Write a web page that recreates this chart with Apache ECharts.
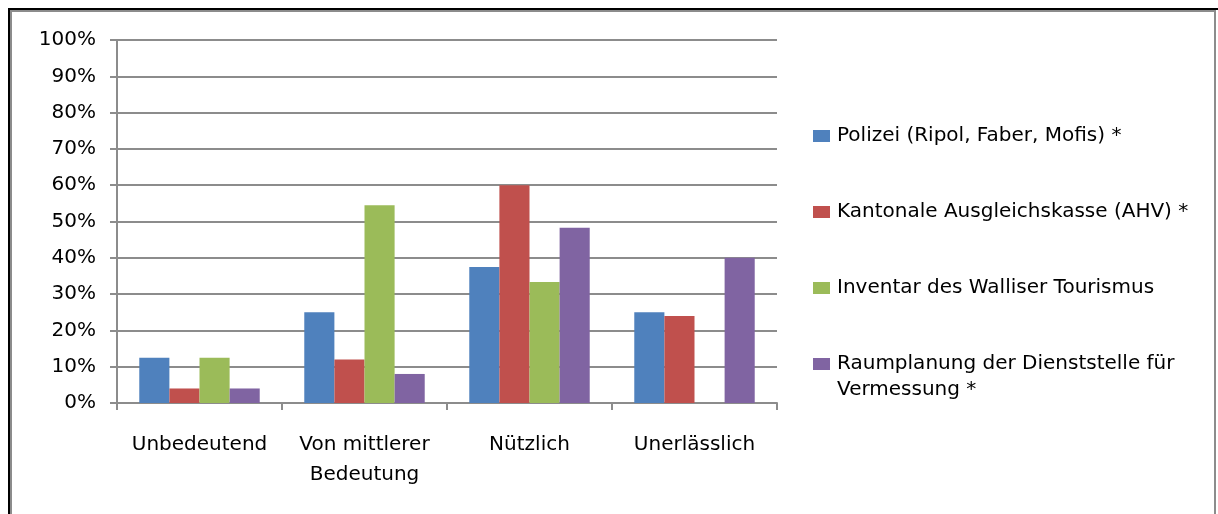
<!DOCTYPE html>
<html>
<head>
<meta charset="utf-8">
<script src="https://cdn.jsdelivr.net/npm/echarts@6/dist/echarts.min.js"></script>
<style>
html, body { margin: 0; padding: 0; background: #fff; overflow: hidden; width: 1218px; height: 514px; }
#frame_black {
  position: absolute; left: 8px; top: 8px; width: 1210px; height: 506px;
  border-left: 2px solid #000; border-top: 2px solid #000;
}
#frame_gray {
  position: absolute; left: 10px; top: 10px; width: 1202px; height: 504px;
  border-left: 2px solid #8c8c8c; border-top: 2px solid #8c8c8c; border-right: 2px solid #8c8c8c;
}
#chart { position: absolute; left: 0; top: 0; width: 1218px; height: 514px; }
</style>
</head>
<body>
<div id="frame_black"></div>
<div id="frame_gray"></div>
<div id="chart"></div>
<script>
// Kategorien und Werte (Anteile in %)
const categories = ['Unbedeutend', 'Von mittlerer Bedeutung', 'Nützlich', 'Unerlässlich'];
const seriesNames = [
  'Polizei (Ripol, Faber, Mofis) *',
  'Kantonale Ausgleichskasse (AHV) *',
  'Inventar des Walliser Tourismus',
  'Raumplanung der Dienststelle für Vermessung *'
];
const polizei = [12.5, 25, 37.5, 25];
const ahv = [4, 12, 60, 24];
const tourismus = [12.5, 54.5, 33.3, 0];
const raumplanung = [4, 8, 48.3, 40];
const colors = ['#4F81BD', '#C0504D', '#9BBB59', '#8064A2'];

const font = 'DejaVu Sans';
const fs = 20;
const chart = echarts.init(document.getElementById('chart'));

const option = {
  animation: false,
  color: colors,
  grid: { left: 117, right: 441, top: 40, bottom: 111 },
  legend: {
    orient: 'vertical',
    left: 813,
    top: 125,
    padding: 0,
    itemWidth: 17,
    itemHeight: 12,
    itemGap: 54,
    icon: 'rect',
    data: seriesNames,
    formatter: function (name) {
      // zweite Zeile des letzten Eintrags kommt als eigener Text
      return name.replace(' Vermessung *', '');
    },
    textStyle: { fontFamily: font, fontSize: fs, color: '#000', lineHeight: 22, padding: [0, 0, 0, 2] }
  },
  graphic: [{
    type: 'text',
    left: 837,
    top: 380,
    style: { text: 'Vermessung *', fontFamily: font, fontSize: fs, fill: '#000' }
  }],
  xAxis: {
    type: 'category',
    data: categories,
    axisLine: { lineStyle: { color: '#8c8c8c', width: 2 } },
    axisTick: { show: true, interval: 0, length: 7, lineStyle: { color: '#8c8c8c', width: 2 } },
    axisLabel: {
      interval: 0,
      margin: 27,
      fontFamily: font,
      fontSize: fs,
      color: '#000',
      lineHeight: 30,
      formatter: function (v) { return v.replace(' Bedeutung', '\nBedeutung'); }
    }
  },
  yAxis: {
    type: 'value',
    min: 0,
    max: 100,
    interval: 10,
    axisLine: { show: true, lineStyle: { color: '#8c8c8c', width: 2 } },
    axisTick: { show: true, length: 7, lineStyle: { color: '#8c8c8c', width: 2 } },
    axisLabel: { formatter: '{value}%', margin: 21, fontFamily: font, fontSize: fs, color: '#000' },
    splitLine: { lineStyle: { color: '#8c8c8c', width: 2 } }
  },
  series: [
    { name: seriesNames[0], type: 'bar', data: polizei, barGap: '0%', barCategoryGap: '27%' },
    { name: seriesNames[1], type: 'bar', data: ahv },
    { name: seriesNames[2], type: 'bar', data: tourismus },
    { name: seriesNames[3], type: 'bar', data: raumplanung }
  ]
};

chart.setOption(option);
</script>
</body>
</html>
